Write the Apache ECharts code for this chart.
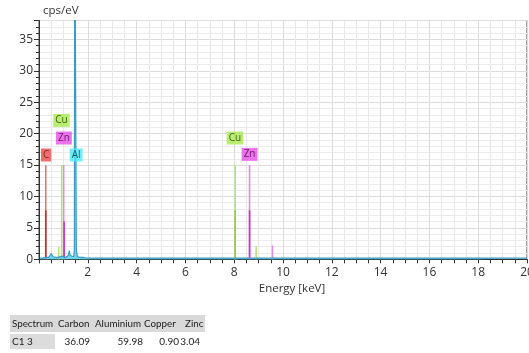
<!DOCTYPE html>
<html><head><meta charset="utf-8">
<script src="https://cdn.jsdelivr.net/npm/echarts@6/dist/echarts.min.js"></script>
<style>html,body{margin:0;padding:0;background:#fff}#c{width:529px;height:353px}</style>
</head><body><div id="c"></div>
<script>
// Spectrum (cps/eV vs keV)
var specE = [0.05,0.15,0.22,0.3,0.4,0.46,0.5,0.53,0.58,0.7,0.8,0.88,0.95,1.0,1.03,1.08,1.15,1.2,1.24,1.28,1.35,1.42,1.45,1.465,1.49,1.515,1.53,1.58,1.68,1.74,1.8,1.9,2.2,3,4,6,8,10,12,14,16,18,20];
var specC = [0.2,0.2,0.3,0.3,0.3,0.4,0.9,1.0,0.4,0.3,0.3,0.4,0.5,0.6,0.4,0.3,0.3,0.6,1.4,0.6,0.3,0.4,1.5,60,60,60,1.5,0.4,0.3,0.5,0.3,0.25,0.2,0.2,0.2,0.2,0.2,0.2,0.2,0.2,0.2,0.2,0.2];
// Element marker lines
var markerEl = ['C','Cu','Zn','Cu','Zn','Cu','Cu','Zn'];
var markerE  = [0.277,0.93,1.012,8.04,8.63,0.81,8.9,9.57];
var markerH  = [15,15,15,15,15,2,2.1,2.2];
var innerEl = ['C','Zn','Cu','Zn'];
var innerE  = [0.277,1.03,8.04,8.63];
var innerH  = [7.8,6,7.8,7.8];
// Element labels
var labelEl = ['C','Cu','Zn','Al','Cu','Zn'];
var labelE  = [0.29,0.92,1.02,1.52,8.03,8.63];
var labelY  = [16.6,22.1,19.3,16.6,19.3,16.7];
// Table
var tableHead = ['Spectrum','Carbon','Aluminium','Copper','Zinc'];
var tableRow  = ['C1 3','36.09','59.98','0.90','3.04'];
// Ticks
var xTickStep = 2, yTickStep = 5;

var light = {C:'#d77a7a',Cu:'#b8e27a',Zn:'#dd8fdd',Al:'#5fd4ea'};
var dark  = {C:'#c43030',Cu:'#93cc45',Zn:'#c832c8',Al:'#3aa0c8'};
var boxC  = {C:'#f04a4a',Cu:'#a8ea50',Zn:'#e650e6',Al:'#4ee8f6'};
var txtC  = {C:'#5a1010',Cu:'#1f3a00',Zn:'#4a004a',Al:'#00404f'};

var barData = [];
markerE.forEach(function(e,i){barData.push({value:[e,markerH[i]],itemStyle:{color:light[markerEl[i]]}});});
innerE.forEach(function(e,i){barData.push({value:[e,innerH[i]],itemStyle:{color:dark[innerEl[i]]}});});

var labData = labelE.map(function(e,i){
  var el = labelEl[i];
  return {value:[e,labelY[i]],label:{show:true,position:'inside',formatter:el,
    backgroundColor:boxC[el],color:txtC[el],fontSize:10,fontFamily:'Open Sans',
    padding:[2,2,1,2]}};
});

var F = 'Open Sans';
var graphics = [];
var colL = [12,58,95,144,185];
graphics.push({type:'rect',shape:{x:10,y:315,width:195,height:17},style:{fill:'#d9d9d9'}});
graphics.push({type:'rect',shape:{x:10,y:334,width:45,height:15},style:{fill:'#dcdcdc'}});
tableHead.forEach(function(t,i){
  graphics.push({type:'text',x:colL[i],y:323.5,style:{text:t,fontSize:9.8,fontFamily:'Lato',fill:'#222',verticalAlign:'middle'}});
});
var rowX = [12,90,143,179,200];
tableRow.forEach(function(t,i){
  graphics.push({type:'text',x:rowX[i],y:341.5,style:{text:t,fontSize:10,fontFamily:'Lato',fill:'#222',align:i==0?'left':'right',verticalAlign:'middle'}});
});

var chart = echarts.init(document.getElementById('c'));
chart.setOption({
  animation:false,
  backgroundColor:'#fff',
  grid:{left:39,right:2,top:20.5,bottom:93.7,show:true,borderColor:'#444',borderWidth:1,backgroundColor:'transparent',
    containLabel:false,outerBoundsMode:'none'},
  xAxis:{type:'value',min:0,max:20,interval:xTickStep,
    name:'Energy [keV]',nameLocation:'middle',nameGap:22,
    nameTextStyle:{fontFamily:F,fontSize:11.5,color:'#333',padding:[0,0,0,18]},
    axisLine:{lineStyle:{color:'#333'}},
    axisTick:{show:true,length:4,lineStyle:{color:'#333'}},
    minorTick:{show:true,splitNumber:4,length:4,lineStyle:{color:'#333'}},
    axisLabel:{fontFamily:F,fontSize:12,color:'#333',margin:7,showMinLabel:false,showMaxLabel:true,hideOverlap:false},
    splitLine:{show:true,lineStyle:{color:'#dcdcdc'}},
    minorSplitLine:{show:true,lineStyle:{color:'#e8e8e8'}}},
  yAxis:{type:'value',min:0,max:38,interval:yTickStep,
    name:'cps/eV',nameLocation:'end',nameGap:4,
    nameTextStyle:{fontFamily:F,fontSize:11.5,color:'#333',align:'left',padding:[0,0,0,4]},
    axisLine:{show:true,lineStyle:{color:'#333'}},
    axisTick:{show:true,length:5,lineStyle:{color:'#333'}},
    minorTick:{show:true,splitNumber:5,length:3,lineStyle:{color:'#333'}},
    axisLabel:{fontFamily:F,fontSize:12,color:'#333',margin:6,showMaxLabel:false},
    splitLine:{show:true,lineStyle:{color:'#dcdcdc'}},
    minorSplitLine:{show:true,lineStyle:{color:'#ececec'}}},
  series:[
    {type:'bar',data:barData,barWidth:1.6,silent:true,z:2},
    {type:'line',data:specE.map(function(e,i){return [e,specC[i]];}),symbol:'none',
      lineStyle:{color:'#3a9cc4',width:1.2},areaStyle:{color:'#55d2ea',opacity:0.85},z:3,clip:true},
    {type:'scatter',data:labData,symbolSize:1,itemStyle:{color:'rgba(0,0,0,0)'},z:5}
  ],
  graphic:graphics
});
</script></body></html>
